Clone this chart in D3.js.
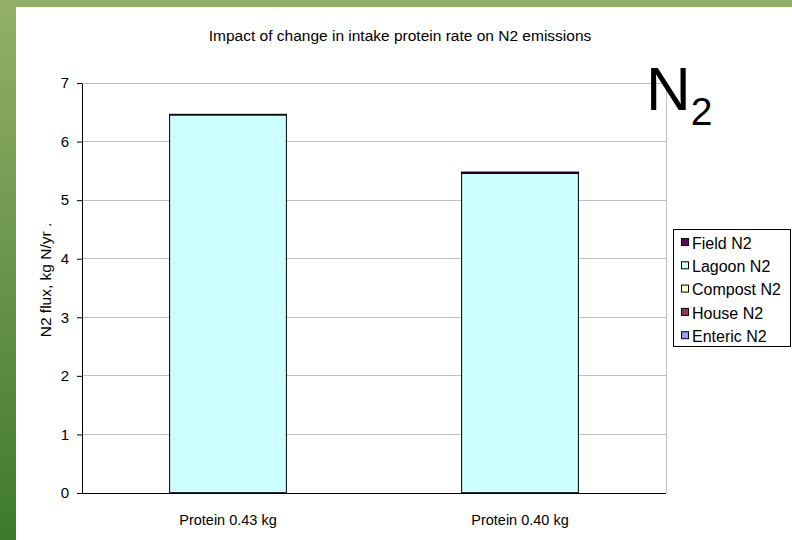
<!DOCTYPE html>
<html>
<head>
<meta charset="utf-8">
<script src="https://cdn.jsdelivr.net/npm/d3@7"></script>
<style>
  html, body { margin: 0; padding: 0; background: #fff; }
  svg { display: block; font-family: "Liberation Sans", Arial, sans-serif; }
</style>
</head>
<body>
<svg id="chart" width="792" height="540"></svg>
<script>
// ---- data ----
const categories = ["Protein 0.43 kg", "Protein 0.40 kg"];
const seriesNames = ["Enteric N2", "House N2", "Compost N2", "Lagoon N2", "Field N2"];
const entericN2 = [0.0, 0.0];
const houseN2 = [0.005, 0.005];
const compostN2 = [0.0, 0.0];
const lagoonN2 = [6.45, 5.45];
const fieldN2 = [0.01, 0.025];
const seriesColors = ["#9999FF", "#993366", "#FFFFCC", "#CCFFFF", "#660066"];
const yTicks = [0, 1, 2, 3, 4, 5, 6, 7];
const legendOrder = ["Field N2", "Lagoon N2", "Compost N2", "House N2", "Enteric N2"];

const seriesValues = [entericN2, houseN2, compostN2, lagoonN2, fieldN2];
const rows = categories.map((c, i) => {
  const r = { cat: c };
  seriesNames.forEach((s, j) => r[s] = seriesValues[j][i]);
  return r;
});

const FONT = "'Liberation Sans', Arial, sans-serif";
const svg = d3.select("#chart");
const W = 792, H = 540;

// green frame
const defs = svg.append("defs");
const grad = defs.append("linearGradient").attr("id", "leftGrad")
  .attr("x1", 0).attr("y1", 0).attr("x2", 0).attr("y2", 1);
grad.append("stop").attr("offset", "0%").attr("stop-color", "#93b068");
grad.append("stop").attr("offset", "100%").attr("stop-color", "#3e7a2c");
svg.append("rect").attr("x", 0).attr("y", 0).attr("width", W).attr("height", 7).attr("fill", "#91ae64");
svg.append("rect").attr("x", 0).attr("y", 0).attr("width", 16).attr("height", H).attr("fill", "url(#leftGrad)");

const plot = { left: 82, right: 666, top: 83, bottom: 493 };

const x = d3.scaleBand().domain(categories).range([plot.left, plot.right]).paddingInner(0.6).paddingOuter(0.3);
const y = d3.scaleLinear().domain([0, 7]).range([plot.bottom, plot.top]);
const color = d3.scaleOrdinal().domain(seriesNames).range(seriesColors);

// gridlines
svg.append("g").selectAll("line").data(yTicks.filter(d => d > 0)).join("line")
  .attr("x1", plot.left).attr("x2", plot.right)
  .attr("y1", d => y(d)).attr("y2", d => y(d))
  .attr("stroke", "#c0c0c0").attr("stroke-width", 1).attr("shape-rendering", "crispEdges");
// right border of plot area
svg.append("line").attr("x1", plot.right).attr("x2", plot.right)
  .attr("y1", plot.top).attr("y2", plot.bottom)
  .attr("stroke", "#c0c0c0").attr("shape-rendering", "crispEdges");

// stacked bars
const stack = d3.stack().keys(seriesNames);
const layers = stack(rows);
svg.append("g").selectAll("g").data(layers).join("g")
  .attr("fill", d => color(d.key))
  .selectAll("rect").data(d => d).join("rect")
  .attr("x", d => x(d.data.cat))
  .attr("width", x.bandwidth())
  .attr("y", d => y(d[1]))
  .attr("height", d => Math.max(0, y(d[0]) - y(d[1])))
  .attr("stroke", "#000").attr("stroke-width", 1);

// axes
const yAxis = d3.axisLeft(y).tickValues(yTicks).tickSize(5).tickSizeOuter(0).tickFormat(d3.format("d"));
const gy = svg.append("g").attr("transform", `translate(${plot.left},0)`).call(yAxis);
gy.select(".domain").attr("stroke", "#000");
gy.selectAll(".tick line").attr("stroke", "#000");
gy.selectAll(".tick text").attr("font-size", 15).attr("fill", "#000").attr("x", -13)
  .attr("font-family", FONT);

const xAxis = d3.axisBottom(x).tickSize(0).tickSizeOuter(0);
const gx = svg.append("g").attr("transform", `translate(0,${plot.bottom})`).call(xAxis);
gx.select(".domain").attr("stroke", "#000").attr("d", `M${plot.left - 5},0.5H${plot.right}`);
gx.selectAll(".tick text").attr("font-size", 14.5).attr("fill", "#000").attr("y", 0).attr("dy", "2.2em")
  .attr("font-family", FONT);

// title
svg.append("text").attr("x", 400).attr("y", 41).attr("text-anchor", "middle")
  .attr("font-size", 15.5).attr("fill", "#000")
  .text("Impact of change in intake protein rate on N2 emissions");

// y label
svg.append("text").attr("transform", "translate(51,280) rotate(-90)")
  .attr("text-anchor", "middle").attr("font-size", 15.5).attr("fill", "#000")
  .text("N2 flux, kg N/yr .");

// big N2
const n2 = svg.append("text").attr("x", 646).attr("y", 110).attr("font-size", 62).attr("fill", "#000");
n2.append("tspan").text("N");
n2.append("tspan").attr("font-size", 39).attr("dy", 15).text("2");

// legend
const lg = svg.append("g");
lg.append("rect").attr("x", 673.5).attr("y", 229.5).attr("width", 117).attr("height", 117)
  .attr("fill", "#fff").attr("stroke", "#000");
legendOrder.forEach((name, i) => {
  const cy = 243 + i * 23.3;
  lg.append("rect").attr("x", 681.5).attr("y", cy - 4.5).attr("width", 7).attr("height", 7)
    .attr("fill", color(name)).attr("stroke", "#000").attr("stroke-width", 1);
  lg.append("text").attr("x", 692).attr("y", cy).attr("dy", "0.35em")
    .attr("font-size", 16).attr("fill", "#000").text(name);
});
</script>
</body>
</html>
